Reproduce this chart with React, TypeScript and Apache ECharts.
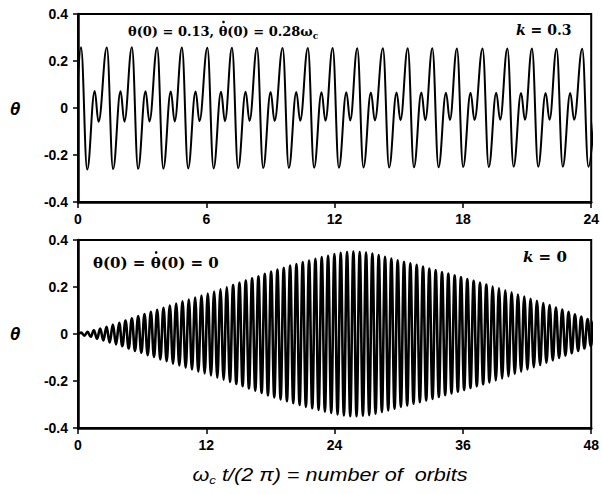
import React, { useEffect, useRef } from "react";
import * as echarts from "echarts";

// k = 0.3 run, θ(0) = 0.13, θ'(0) = 0.28 ωc: turning points [orbits, θ]
const librationTurningPoints: [number, number][] = [
  [0, 0.13],
  [0.14, 0.258], [0.43, -0.262], [0.78, 0.072], [0.96, -0.058],
  [1.35, 0.257], [1.64, -0.26], [1.99, 0.071], [2.17, -0.058],
  [2.52, 0.258], [2.81, -0.259], [3.16, 0.071], [3.34, -0.057],
  [3.7, 0.257], [3.99, -0.258], [4.34, 0.07], [4.52, -0.057],
  [4.86, 0.257], [5.15, -0.257], [5.5, 0.07], [5.68, -0.056],
  [6.05, 0.256], [6.34, -0.257], [6.69, 0.069], [6.87, -0.056],
  [7.2, 0.256], [7.49, -0.256], [7.84, 0.069], [8.02, -0.055],
  [8.37, 0.256], [8.66, -0.255], [9.01, 0.068], [9.19, -0.055],
  [9.57, 0.255], [9.86, -0.255], [10.21, 0.068], [10.39, -0.054],
  [10.75, 0.255], [11.04, -0.254], [11.39, 0.067], [11.57, -0.054],
  [11.91, 0.255], [12.2, -0.254], [12.55, 0.067], [12.73, -0.053],
  [13.06, 0.254], [13.35, -0.253], [13.7, 0.066], [13.88, -0.053],
  [14.26, 0.254], [14.55, -0.253], [14.9, 0.066], [15.08, -0.052],
  [15.42, 0.254], [15.71, -0.252], [16.06, 0.066], [16.24, -0.052],
  [16.57, 0.254], [16.86, -0.252], [17.21, 0.065], [17.39, -0.051],
  [17.72, 0.253], [18.01, -0.251], [18.36, 0.065], [18.54, -0.051],
  [18.92, 0.253], [19.21, -0.251], [19.56, 0.065], [19.74, -0.05],
  [20.08, 0.253], [20.37, -0.25], [20.72, 0.064], [20.9, -0.05],
  [21.23, 0.253], [21.52, -0.25], [21.87, 0.064], [22.05, -0.05],
  [22.38, 0.252], [22.67, -0.25], [23.02, 0.064], [23.2, -0.05],
  [23.58, 0.252], [23.87, -0.25], [24.22, 0.064],
];

// k = 0 run, θ(0) = θ'(0) = 0: one crest and one trough per libration cycle
const beatStart = 0.3; // orbits, first crest
const beatPeriod = 0.592; // orbits per libration cycle
const beatCrests = [
  0.006, 0.009, 0.016, 0.023, 0.031, 0.04, 0.048, 0.057, 0.067, 0.076,
  0.085, 0.094, 0.103, 0.112, 0.121, 0.13, 0.139, 0.147, 0.155, 0.164,
  0.172, 0.181, 0.19, 0.199, 0.208, 0.218, 0.227, 0.237, 0.246, 0.256,
  0.266, 0.274, 0.282, 0.291, 0.298, 0.306, 0.313, 0.32, 0.327, 0.333,
  0.34, 0.345, 0.349, 0.351, 0.349, 0.347, 0.342, 0.336, 0.329, 0.321,
  0.314, 0.307, 0.301, 0.294, 0.287, 0.279, 0.272, 0.264, 0.257, 0.25,
  0.242, 0.234, 0.226, 0.218, 0.21, 0.202, 0.194, 0.186, 0.177, 0.168,
  0.159, 0.15, 0.141, 0.132, 0.123, 0.113, 0.104, 0.094, 0.084, 0.074,
  0.064, 0.056,
];
const beatTroughs = [
  -0.007, -0.012, -0.02, -0.027, -0.036, -0.044, -0.052, -0.062, -0.072, -0.08,
  -0.09, -0.098, -0.108, -0.116, -0.126, -0.134, -0.143, -0.151, -0.16, -0.168,
  -0.176, -0.186, -0.194, -0.204, -0.213, -0.222, -0.232, -0.241, -0.251, -0.261,
  -0.27, -0.278, -0.286, -0.294, -0.302, -0.31, -0.316, -0.323, -0.33, -0.336,
  -0.342, -0.347, -0.35, -0.35, -0.348, -0.345, -0.339, -0.332, -0.325, -0.318,
  -0.31, -0.304, -0.297, -0.29, -0.283, -0.276, -0.268, -0.26, -0.253, -0.246,
  -0.238, -0.23, -0.222, -0.214, -0.206, -0.197, -0.189, -0.18, -0.17, -0.16,
  -0.151, -0.141, -0.132, -0.122, -0.112, -0.102, -0.092, -0.082, -0.072, -0.062,
  -0.052, -0.045,
];

const yTicks = { min: -0.4, max: 0.4, interval: 0.2 };
const topOrbits = { min: 0, max: 24, interval: 6 };
const bottomOrbits = { min: 0, max: 48, interval: 12 };

const beatSeries: [number, number][] = [[0, 0]];
beatCrests.forEach((c, i) => {
  const t = beatStart + i * beatPeriod;
  beatSeries.push([t, c]);
  beatSeries.push([t + beatPeriod / 2, beatTroughs[i]]);
});

const sansFamily = '"Liberation Sans", Arial, sans-serif';
const serifFamily = '"DejaVu Serif", "Liberation Serif", serif';

const tickFont = {
  color: "#000",
  fontSize: 14,
  fontWeight: "bold" as const,
  fontFamily: sansFamily,
};

const xAxisBase = (gridIndex: number, range: { min: number; max: number; interval: number }) => ({
  type: "value" as const,
  gridIndex,
  ...range,
  axisLine: { show: true, onZero: false, lineStyle: { color: "#000", width: 2.5 } },
  axisTick: { show: true, inside: false, length: 6, lineStyle: { color: "#000", width: 1.5 } },
  axisLabel: { ...tickFont, margin: 10, hideOverlap: false },
  splitLine: { show: false },
});

const yAxisBase = (gridIndex: number) => ({
  type: "value" as const,
  gridIndex,
  ...yTicks,
  axisLine: { show: true, onZero: false, lineStyle: { color: "#000", width: 2.5 } },
  axisTick: { show: true, inside: false, length: 5, lineStyle: { color: "#000", width: 1.5 } },
  axisLabel: { ...tickFont, margin: 10 },
  splitLine: { show: false },
});

// width of a string in a given CSS font, used to put the dot over the second θ
const textWidth = (text: string, font: string) => {
  const ctx = document.createElement("canvas").getContext("2d");
  if (!ctx) return text.length * 7;
  ctx.font = font;
  return ctx.measureText(text).width;
};

const dotOver = (left: number, prefix: string, font: string, y: number) => {
  const x = left + textWidth(prefix, font) + textWidth("θ", font) / 2 + 0.5;
  return {
    type: "circle",
    shape: { cx: x, cy: y, r: 1.3 },
    style: { fill: "#000" },
    silent: true,
  };
};

const App = () => {
  const ref = useRef<HTMLDivElement>(null);
  useEffect(() => {
    if (!ref.current) return;
    const chart = echarts.init(ref.current, null, { renderer: "svg" });
    const topFont = `bold 13px ${serifFamily}`;
    const bottomFont = `bold 15px ${serifFamily}`;
    chart.setOption({
      animation: false,
      backgroundColor: "#fff",
      grid: [
        { left: 78, top: 14, width: 521, height: 188, show: true, borderColor: "#000", borderWidth: 2 },
        { left: 78, top: 240, width: 521, height: 188, show: true, borderColor: "#000", borderWidth: 2 },
      ],
      xAxis: [xAxisBase(0, topOrbits), xAxisBase(1, bottomOrbits)],
      yAxis: [yAxisBase(0), yAxisBase(1)],
      series: [
        {
          type: "line",
          xAxisIndex: 0,
          yAxisIndex: 0,
          data: librationTurningPoints,
          showSymbol: false,
          smooth: 0.4,
          smoothMonotone: "x",
          silent: true,
          lineStyle: { color: "#000", width: 2 },
        },
        {
          type: "line",
          xAxisIndex: 1,
          yAxisIndex: 1,
          data: beatSeries,
          showSymbol: false,
          smooth: 0.4,
          smoothMonotone: "x",
          silent: true,
          lineStyle: { color: "#000", width: 2.6 },
        },
      ],
      graphic: [
        {
          type: "text",
          x: 15,
          y: 108,
          style: {
            text: "θ",
            font: `italic bold 19px ${sansFamily}`,
            fill: "#000",
            align: "center",
            verticalAlign: "middle",
          },
        },
        {
          type: "text",
          x: 15,
          y: 333,
          style: {
            text: "θ",
            font: `italic bold 19px ${sansFamily}`,
            fill: "#000",
            align: "center",
            verticalAlign: "middle",
          },
        },
        {
          type: "text",
          x: 128,
          y: 31,
          style: {
            text: "{m|θ(0) = 0.13, θ(0) = 0.28ω}{s|c}",
            align: "left",
            verticalAlign: "middle",
            rich: {
              m: { fontFamily: serifFamily, fontWeight: "bold", fontSize: 13, fill: "#000", lineHeight: 18 },
              s: { fontFamily: serifFamily, fontWeight: "bold", fontSize: 9, fill: "#000", lineHeight: 10, verticalAlign: "bottom" },
            },
          },
        },
        dotOver(128, "θ(0) = 0.13, ", topFont, 22),
        {
          type: "text",
          x: 516,
          y: 30,
          style: {
            text: "{k|k}{m| = 0.3}",
            align: "left",
            verticalAlign: "middle",
            rich: {
              k: { fontFamily: serifFamily, fontWeight: "bold", fontStyle: "italic", fontSize: 14, fill: "#000" },
              m: { fontFamily: serifFamily, fontWeight: "bold", fontSize: 14, fill: "#000" },
            },
          },
        },
        {
          type: "text",
          x: 93,
          y: 263,
          style: {
            text: "θ(0) = θ(0) = 0",
            font: bottomFont,
            fill: "#000",
            align: "left",
            verticalAlign: "middle",
          },
        },
        dotOver(93, "θ(0) = ", bottomFont, 252.5),
        {
          type: "text",
          x: 523,
          y: 257,
          style: {
            text: "{k|k}{m| = 0}",
            align: "left",
            verticalAlign: "middle",
            rich: {
              k: { fontFamily: serifFamily, fontWeight: "bold", fontStyle: "italic", fontSize: 15, fill: "#000" },
              m: { fontFamily: serifFamily, fontWeight: "bold", fontSize: 15, fill: "#000" },
            },
          },
        },
        {
          type: "text",
          x: 330,
          y: 475,
          scaleX: 1.2,
          style: {
            text: "{m|ω}{s|c}{m| t/(2 π) = number of  orbits}",
            align: "center",
            verticalAlign: "middle",
            rich: {
              m: { fontFamily: sansFamily, fontStyle: "italic", fontSize: 18, fill: "#000", lineHeight: 22 },
              s: { fontFamily: sansFamily, fontStyle: "italic", fontSize: 11, fill: "#000", lineHeight: 10, verticalAlign: "bottom" },
            },
          },
        },
      ],
    });
    return () => chart.dispose();
  }, []);
  return <div ref={ref} style={{ position: "fixed", left: 0, top: 0, width: 602, height: 494 }} />;
};

export default App;
